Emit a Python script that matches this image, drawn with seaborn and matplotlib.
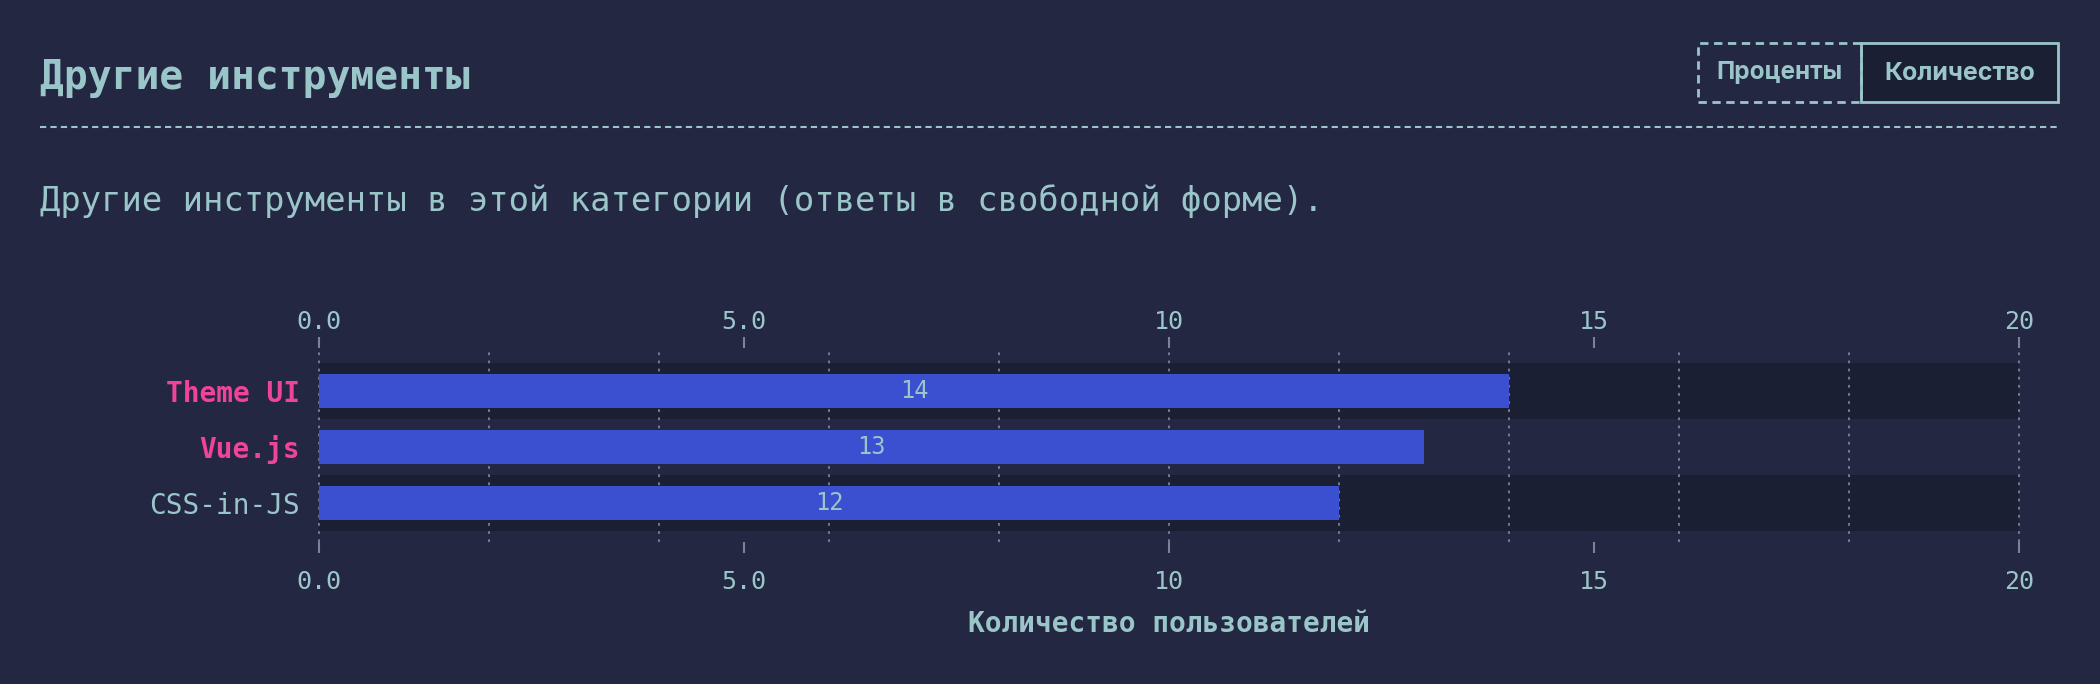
import matplotlib
matplotlib.use("Agg")
import matplotlib.pyplot as plt
from matplotlib.patches import Rectangle
from matplotlib.lines import Line2D
from matplotlib.ticker import MultipleLocator, FixedLocator, FixedFormatter
import pandas as pd
import seaborn as sns

# data
tools = ["Theme UI", "Vue.js", "CSS-in-JS"]
users = [14, 13, 12]
highlighted = [True, True, False]
major_ticks = [0, 5, 10, 15, 20]
tick_labels = ["0.0", "5.0", "10", "15", "20"]

BG = "#232742"
BAND = "#1b1f33"
TEAL = "#9ac6ca"
PINK = "#f04498"
BAR = "#3b50d0"
GRID = "#7d8392"
MONO = "DejaVu Sans Mono"

sns.set_theme(style="dark")
plt.rcParams.update({
    "figure.facecolor": BG,
    "axes.facecolor": BG,
    "savefig.facecolor": BG,
    "text.color": TEAL,
})
plt.rcParams["font.family"] = [MONO, "DejaVu Sans"]

W, H = 2100, 684
fig = plt.figure(figsize=(W / 100, H / 100), dpi=100)
ax = fig.add_axes([319 / W, 1 - 542 / H, (2019 - 319) / W, (542 - 348) / H])

df = pd.DataFrame({"tool": tools, "users": users})

# alternating row bands
for i in range(len(tools)):
    if i % 2 == 0:
        ax.axhspan(i - 0.5, i + 0.5, color=BAND, zorder=0.1, lw=0)

sns.barplot(data=df, x="users", y="tool", orient="h", color=BAR,
            width=0.6, saturation=1, ax=ax, zorder=3, edgecolor="none", linewidth=0)
ax.bar_label(ax.containers[0], label_type="center", color=TEAL, fontsize=17)

ax.set_xlim(0, 20)
ax.set_ylim(2.70, -0.77)
for s in ax.spines.values():
    s.set_visible(False)

# dotted grid every 2, major ticks every 5
ax.xaxis.set_major_locator(FixedLocator(major_ticks))
ax.xaxis.set_major_formatter(FixedFormatter(tick_labels))
ax.xaxis.set_minor_locator(MultipleLocator(2))
ax.xaxis.remove_overlapping_locs = False
ax.grid(False)
ax.grid(which="minor", axis="x", color=GRID, linestyle=(0, (1.5, 3)), lw=1.3, zorder=0.5)
for t in ax.xaxis.get_minor_ticks():
    t.gridline.set_clip_on(False)
ax.set_axisbelow(True)
ax.tick_params(axis="x", which="minor", length=0)
ax.tick_params(axis="x", which="major", bottom=True, length=8, width=1.5, color=GRID,
               direction="out", pad=12, labelsize=18, labelcolor=TEAL)

top = ax.secondary_xaxis("top")
top.xaxis.set_major_locator(FixedLocator(major_ticks))
top.xaxis.set_major_formatter(FixedFormatter(tick_labels))
top.tick_params(axis="x", length=8, width=1.5, color=GRID, direction="out",
                pad=2, labelsize=18, labelcolor=TEAL)
for s in top.spines.values():
    s.set_visible(False)

ax.set_xlabel("")
ax.set_ylabel("")
ax.tick_params(axis="y", length=0, pad=14, labelsize=20)
for lbl, hl in zip(ax.get_yticklabels(), highlighted):
    lbl.set_color(PINK if hl else TEAL)
    lbl.set_fontweight("bold" if hl else "normal")

fig.text((319 + 2019) / 2 / W, 1 - 624 / H, "Количество пользователей",
         ha="center", va="center", fontsize=20, fontweight="bold", color=TEAL)

# header
fig.text(40 / W, 1 - 79 / H, "Другие инструменты", ha="left", va="center",
         fontsize=28.5, fontweight="bold", color=TEAL)
fig.add_artist(Line2D([40 / W, 2060 / W], [1 - 127 / H, 1 - 127 / H],
                      color=TEAL, lw=1.5, linestyle=(0, (3, 2))))
fig.text(40 / W, 1 - 201 / H,
         "Другие инструменты в этой категории (ответы в свободной форме).",
         ha="left", va="center", fontsize=24.3, color=TEAL)

# unit toggle
fig.add_artist(Rectangle((1861 / W, 1 - 102 / H), (2058 - 1861) / W, 59 / H,
                         transform=fig.transFigure, facecolor=BAND,
                         edgecolor=TEAL, lw=2))
fig.add_artist(Rectangle((1698 / W, 1 - 102 / H), (1861 - 1698) / W, 59 / H,
                         transform=fig.transFigure, facecolor="none",
                         edgecolor=TEAL, lw=2, linestyle=(0, (3, 2))))
fig.text(1779 / W, 1 - 73 / H, "Проценты", ha="center", va="center",
         fontsize=17.5, fontweight="bold", family="Inter", color=TEAL)
fig.text(1960 / W, 1 - 73 / H, "Количество", ha="center", va="center",
         fontsize=18, fontweight="bold", family="Inter", color=TEAL)

fig.savefig("out.png", dpi=100)
